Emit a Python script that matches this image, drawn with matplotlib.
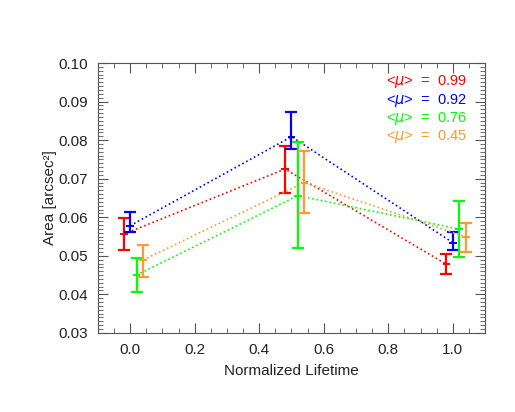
import numpy as np
import matplotlib
matplotlib.use("Agg")
import matplotlib.pyplot as plt
from matplotlib.ticker import MultipleLocator

plt.rcParams['font.family'] = ['Liberation Sans', 'DejaVu Sans']

# normalized lifetime stages and small x offset per series
lifetime = [0.0, 0.5, 1.0]
labels = ['0.99', '0.92', '0.76', '0.45']
offsets = [-0.02, 0.0, 0.02, 0.04]
colors = ['#ff0000', '#0000ff', '#00ff00', '#ff9933']

# area values (arcsec^2) with lower / upper error bar ends
area = [[0.0556, 0.0725, 0.0478],
        [0.0578, 0.0809, 0.0534],
        [0.0450, 0.0656, 0.0569],
        [0.0489, 0.0690, 0.0549]]
area_lo = [[0.0514, 0.0664, 0.0452],
           [0.0561, 0.0778, 0.0516],
           [0.0407, 0.0519, 0.0497],
           [0.0445, 0.0612, 0.0509]]
area_hi = [[0.0599, 0.0786, 0.0505],
           [0.0614, 0.0872, 0.0563],
           [0.0494, 0.0795, 0.0643],
           [0.0528, 0.0771, 0.0586]]

fig = plt.figure(figsize=(5.15, 4.12), dpi=100)
ax = fig.add_axes([0.190, 0.192, 0.752, 0.655])

for i in range(len(labels)):
    x = np.array(lifetime) + offsets[i]
    y = np.array(area[i])
    lo = y - np.array(area_lo[i])
    hi = np.array(area_hi[i]) - y
    ax.plot(x, y, ls=':', color=colors[i], lw=1.2)
    ax.errorbar(x, y, yerr=[lo, hi], fmt='none', ecolor=colors[i],
                elinewidth=1.6, capsize=4, capthick=1.6)
    # tick mark at the centre value
    ax.errorbar(x, y, xerr=0.012, fmt='none', ecolor=colors[i], elinewidth=1.4)
    ax.text(0.745, 0.93 - i * 0.068, r'<$\mu$>  =  ' + labels[i], color=colors[i],
            transform=ax.transAxes, fontsize=10.5, va='center')

ax.set_xlim(-0.1, 1.1)
ax.set_ylim(0.03, 0.10)
ax.xaxis.set_major_locator(MultipleLocator(0.2))
ax.xaxis.set_minor_locator(MultipleLocator(0.05))
ax.yaxis.set_major_locator(MultipleLocator(0.01))
ax.yaxis.set_minor_locator(MultipleLocator(0.001))
ax.xaxis.set_major_formatter(plt.FormatStrFormatter('%.1f'))
ax.yaxis.set_major_formatter(plt.FormatStrFormatter('%.2f'))
ax.tick_params(which='both', direction='in', top=True, right=True, color='#555555')
ax.tick_params(which='major', length=7, labelsize=11, pad=7, labelcolor='#222222')
ax.tick_params(which='minor', length=3.5)
for s in ax.spines.values():
    s.set_color('#555555')
    s.set_linewidth(0.8)

ax.set_xlabel('Normalized Lifetime', fontsize=11, labelpad=5, color='#222222')
ax.set_ylabel('Area [arcsec²]', fontsize=11, labelpad=1, color='#222222')

fig.savefig('out.png', dpi=100)
